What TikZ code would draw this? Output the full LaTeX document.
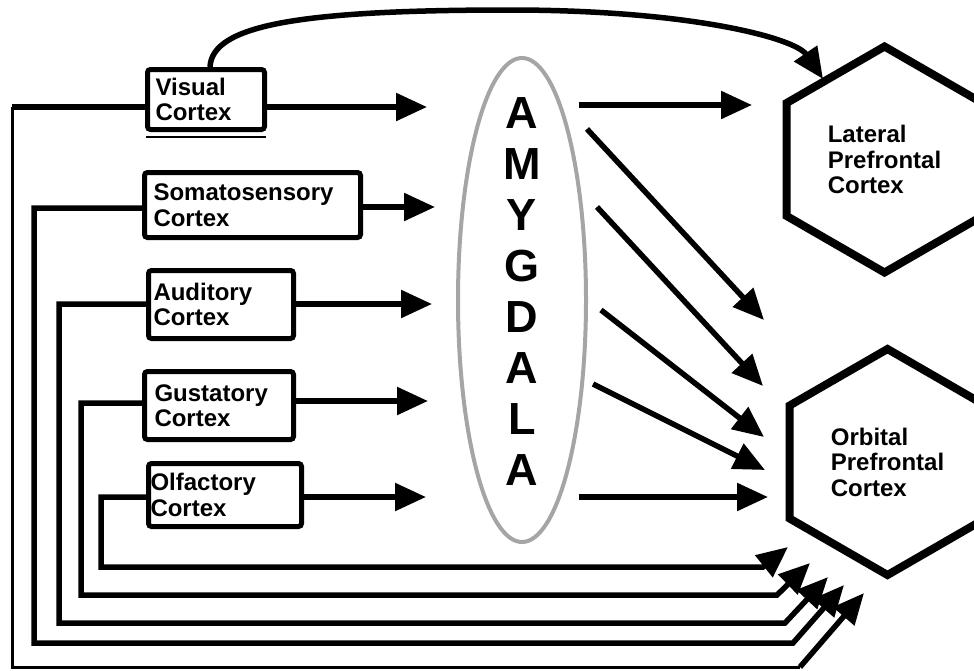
\documentclass[tikz,border=0pt]{standalone}
\usepackage{fontspec}
\setmainfont{Liberation Sans}
\usetikzlibrary{arrows.meta,shapes.geometric,calc}
\definecolor{amyline}{RGB}{165,165,165}
\begin{document}
\begin{tikzpicture}[x=1pt,y=-1pt,
  cortexbox/.style={draw, line width=5pt, rounded corners=3pt, inner ysep=0pt,
    align=left, font=\bfseries\fontsize{24}{25.5}\selectfont},
  hexregion/.style={draw, line width=8pt, regular polygon, regular polygon sides=6,
    shape border rotate=30, minimum size=226pt, inner sep=0pt, align=left,
    font=\bfseries\fontsize{24}{25.5}\selectfont},
  link/.style={line width=5.5pt},
  thinlink/.style={line width=3pt},
  arr/.style={link, -{Triangle[length=31pt,width=27pt]}},
]
\useasboundingbox (0,0) rectangle (974,670);
\clip (0,0) rectangle (974,670);

% sensory cortices
\node[cortexbox, minimum width=117pt, minimum height=60pt, inner xsep=8pt, text width=101pt] (visual) at (206,99.5) {Visual\\Cortex};
\node[cortexbox, minimum width=216pt, minimum height=65pt, inner xsep=9pt, text width=198pt] (somato) at (252.5,205) {Somatosensory\\Cortex};
\node[cortexbox, minimum width=145pt, minimum height=68pt, inner xsep=5pt, text width=135pt] (auditory) at (221,304.5) {Auditory\\Cortex};
\node[cortexbox, minimum width=149pt, minimum height=68pt, inner xsep=10pt, text width=129pt] (gustatory) at (219,405.5) {Gustatory\\Cortex};
\node[cortexbox, minimum width=153pt, minimum height=63pt, inner xsep=2pt, text width=149pt] (olfactory) at (225,495) {Olfactory\\Cortex};
\draw[line width=1.2pt] ($(visual.south west)+(1,5)$) -- ($(visual.south east)+(-1,5)$);

% amygdala
\node[draw=amyline, line width=4pt, ellipse, minimum width=128pt, minimum height=484pt, inner sep=0pt] (amygdala) at (522,300) {};
\node[font=\bfseries\fontsize{45}{51}\selectfont, align=center, inner sep=0pt] (amytext) at (522,292) {A\\M\\Y\\G\\D\\A\\L\\A};

% prefrontal targets
\node[hexregion] (lateral) at (884.5,159.5) {Lateral\\Prefrontal\\Cortex};
\node[hexregion] (orbital) at (887.5,462) {Orbital\\Prefrontal\\Cortex};

% inputs to the amygdala
\coordinate (vIn) at (427,107);
\coordinate (sIn) at (435,207);
\coordinate (aIn) at (432,304);
\coordinate (gIn) at (428,401);
\coordinate (oIn) at (426,497);
\draw[arr] (visual.east |- vIn) -- (vIn);
\draw[arr] (somato.east |- sIn) -- (sIn);
\draw[arr] (auditory.east |- aIn) -- (aIn);
\draw[arr] (gustatory.east |- gIn) -- (gIn);
\draw[arr] (olfactory.east |- oIn) -- (oIn);

% amygdala outputs
\coordinate (m1s) at (579,105); \coordinate (m1e) at (752,105);
\coordinate (m2s) at (587,129); \coordinate (m2e) at (764,320);
\coordinate (m3s) at (597,207); \coordinate (m3e) at (763,386);
\coordinate (m4s) at (601,310); \coordinate (m4e) at (764,437);
\coordinate (m5s) at (593,384); \coordinate (m5e) at (765,470);
\coordinate (m6s) at (579,497); \coordinate (m6e) at (768,497);
\draw[arr] (m1s) -- (m1e);
\draw[arr] (m2s) -- (m2e);
\draw[arr] (m3s) -- (m3e);
\draw[arr] (m4s) -- (m4e);
\draw[arr] (m5s) -- (m5e);
\draw[arr] (m6s) -- (m6e);

% direct visual route to lateral prefrontal cortex
\coordinate (topMid) at (510,10);
\coordinate (lTip) at (823,79);
\draw[arr] ($(visual.north)+(4,0)$) .. controls (212,25) and (300,10) .. (topMid)
  .. controls (690,10) and (795,38) .. (lTip);

% direct sensory routes to orbital prefrontal cortex
\coordinate (vL) at (12,107); \coordinate (vB) at (12,667);
\coordinate (vR) at (800,667); \coordinate (vOut) at (864,593);
\draw[link] (visual.west |- vL) -- (vL);
\draw[thinlink] (vL) -- (vB) -- (vR);
\draw[arr] (vR) -- (vOut);

\coordinate (sL) at (34,208); \coordinate (sB) at (34,643);
\coordinate (sR) at (793,643); \coordinate (sOut) at (844,585);
\draw[arr] (somato.west |- sL) -- (sL) -- (sB) -- (sR) -- (sOut);

\coordinate (aL) at (59,304); \coordinate (aB) at (59,623);
\coordinate (aR) at (785,623); \coordinate (aOut) at (828,577);
\draw[arr] (auditory.west |- aL) -- (aL) -- (aB) -- (aR) -- (aOut);

\coordinate (gL) at (81,403); \coordinate (gB) at (81,595);
\coordinate (gR) at (777,595); \coordinate (gOut) at (810,563);
\draw[arr] (gustatory.west |- gL) -- (gL) -- (gB) -- (gR) -- (gOut);

\coordinate (oL) at (101,497); \coordinate (oB) at (101,567);
\coordinate (oR) at (763,567); \coordinate (oOut) at (788,547);
\draw[arr] (olfactory.west |- oL) -- (oL) -- (oB) -- (oR) -- (oOut);
\end{tikzpicture}
\end{document}
